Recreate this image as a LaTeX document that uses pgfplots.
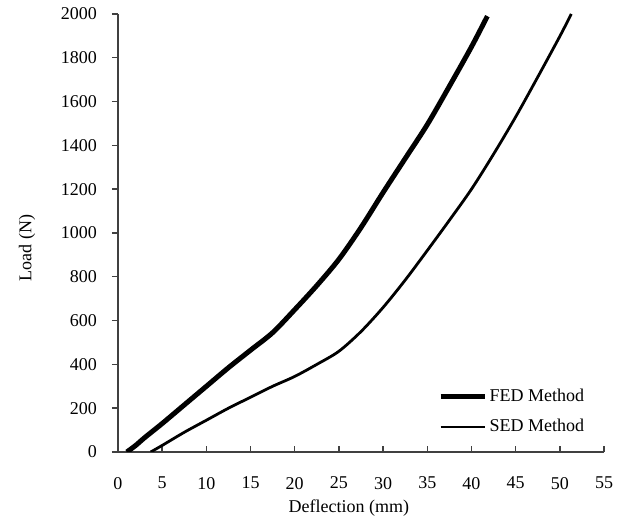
\documentclass[border=0pt]{standalone}
\usepackage{fontspec}
\setmainfont{Liberation Serif}
\usepackage{pgfplots}
\pgfplotsset{compat=1.18}

\pgfplotstableread{
x y
1.0 0
2.0 30
3.0 65
5.0 130
7.5 215
10.0 300
12.5 385
15.0 465
17.5 545
20.0 650
22.5 760
25.0 880
27.5 1025
30.0 1185
32.5 1340
35.0 1495
37.5 1670
40.0 1850
41.8 1990
}\fed

\pgfplotstableread{
x y
3.7 0
5.0 30
7.5 90
10.0 145
12.5 200
15.0 250
17.5 300
20.0 345
22.5 400
25.0 460
27.5 550
30.0 660
32.5 785
35.0 920
37.5 1058
40.0 1200
42.5 1360
45.0 1530
47.5 1712
50.0 1898
51.3 2000
}\sed

\begin{document}
\begin{tikzpicture}[font=\fontsize{9}{11}\selectfont]
\begin{axis}[
  scale only axis, width=243pt, height=219pt,
  xmin=0, xmax=55, ymin=0, ymax=2000,
  axis lines*=left, axis line style={line width=0.7pt, black!75},
  xtick={0,5,...,55}, ytick={0,200,...,2000},
  tick align=outside, major tick length=3pt,
  tick style={line width=0.7pt, black!75},
  major x tick style={yshift=3pt},
  /pgf/number format/assume math mode=true,
  /pgf/number format/1000 sep={},
  xticklabel style={yshift=-6pt},
  yticklabel style={xshift=-4pt},
  xlabel={Deflection (mm)}, ylabel={Load (N)},
  xlabel style={at={(axis description cs:0.475,-0.128)}, anchor=center},
  ylabel style={at={(axis description cs:-0.187,0.466)}, anchor=center, rotate=0},
  legend cell align=left,
  legend image code/.code={\draw[#1] (0pt,0pt) -- (22pt,0pt);},
  legend style={draw=none, fill=none, at={(axis description cs:0.658,0.0915)},
    anchor=west, inner sep=0pt, row sep=5pt,
    nodes={inner sep=1.2pt}},
]
\addplot[black, line width=2.5pt, smooth] table[x=x, y=y] {\fed};
\addlegendentry{FED Method}
\addplot[black, line width=1.4pt, smooth] table[x=x, y=y] {\sed};
\addlegendentry{SED Method}
\end{axis}
\pgfresetboundingbox
\path (current axis.south west) ++(-59pt,-35pt) rectangle ([xshift=10.5pt, yshift=7pt]current axis.north east);
\end{tikzpicture}
\end{document}
